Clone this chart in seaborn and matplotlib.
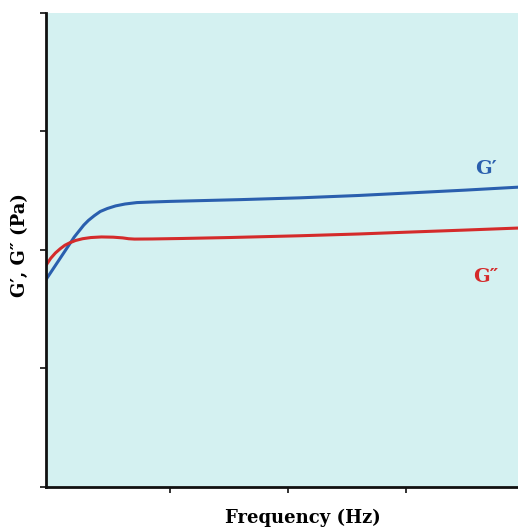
import pandas as pd
import seaborn as sns
import matplotlib.pyplot as plt

BG = '#d4f1f1'
BLUE = '#2a5fae'
RED = '#d42b2b'

# G' (storage modulus)
g1_freq = [-0.05, -0.01, 0.03, 0.07, 0.11, 0.15, 0.19, 0.23, 0.27, 0.31, 0.36,
           0.41, 0.47, 0.54, 0.62, 0.72, 0.85, 1.0, 1.2, 1.6, 2.1, 2.6, 3.0, 3.5, 3.95]
g1_mod = [1.75, 1.81, 1.87, 1.93, 1.99, 2.05, 2.11, 2.16, 2.21, 2.25, 2.29,
          2.325, 2.35, 2.372, 2.388, 2.40, 2.405, 2.41, 2.415, 2.425, 2.44, 2.46, 2.48, 2.505, 2.53]

# G'' (loss modulus)
g2_freq = [-0.05, -0.01, 0.03, 0.07, 0.11, 0.15, 0.20, 0.26, 0.33, 0.42, 0.52,
           0.60, 0.65, 0.70, 0.85, 1.1, 1.5, 2.1, 2.6, 3.0, 3.5, 3.95]
g2_mod = [1.87, 1.93, 1.975, 2.01, 2.04, 2.06, 2.08, 2.095, 2.105, 2.11, 2.108,
          2.102, 2.095, 2.092, 2.093, 2.097, 2.105, 2.12, 2.135, 2.15, 2.168, 2.185]

df = pd.concat([
    pd.DataFrame({'freq': g1_freq, 'mod': g1_mod, 'series': "G'"}),
    pd.DataFrame({'freq': g2_freq, 'mod': g2_mod, 'series': "G''"}),
])

sns.set_theme(style='ticks', rc={'axes.facecolor': BG, 'text.color': 'black',
                                 'axes.labelcolor': 'black'})
plt.rcParams['font.family'] = ['DejaVu Serif']

fig = plt.figure(figsize=(5.18, 5.28), dpi=100)
ax = fig.add_axes([0.0888, 0.0777, 0.9112, 0.8977])

sns.lineplot(
    data=df, x='freq', y='mod', hue='series', palette=[BLUE, RED],
    lw=2.2, legend=False, ax=ax, sort=False
)

ax.set_xlim(-0.05, 3.95)
ax.set_ylim(0, 4)
ax.set_xticks([1, 2, 3])
ax.set_yticks([0, 1, 2, 3, 4])
ax.set_xticklabels([])
ax.set_yticklabels([])
ax.tick_params(length=4, width=1.3, color='#222222')

sns.despine(ax=ax)
for s in ['left', 'bottom']:
    ax.spines[s].set_linewidth(2)
    ax.spines[s].set_color('#111111')

ax.set_xlabel('Frequency (Hz)', fontsize=13, fontweight='bold')
ax.set_ylabel('G\u2032, G\u2033 (Pa)', fontsize=13, fontweight='bold')
ax.xaxis.set_label_coords(0.545, -0.045)
ax.yaxis.set_label_coords(-0.035, 0.51)

ax.text(3.68, 2.68, 'G\u2032', color=BLUE, fontsize=14, fontweight='bold',
        ha='center', va='center')
ax.text(3.68, 1.77, 'G\u2033', color=RED, fontsize=14, fontweight='bold',
        ha='center', va='center')

fig.savefig('out.png', dpi=100, facecolor='white')
